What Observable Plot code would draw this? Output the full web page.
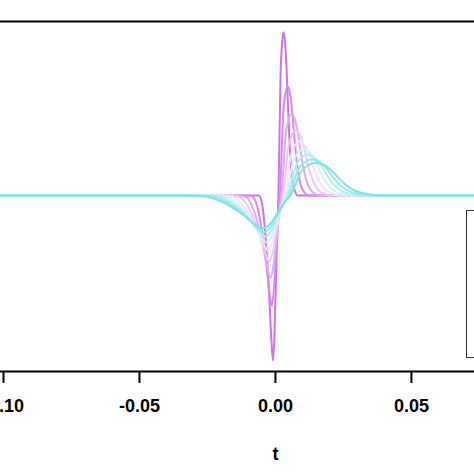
<!DOCTYPE html>
<html><head><meta charset="utf-8">
<script src="https://cdn.jsdelivr.net/npm/d3@7"></script>
<script src="https://cdn.jsdelivr.net/npm/@observablehq/plot@0.6"></script>
<style>
html,body{margin:0;padding:0;background:#fff;overflow:hidden;width:474px;height:474px;}
#wrap{position:relative;width:474px;height:474px;}
#legend{position:absolute;left:466px;top:210px;width:120px;height:148px;border:1.5px solid #333;box-sizing:border-box;background:#fff;}
</style></head><body><div id="wrap"><div id="legend"></div></div>
<script>
// x values in milliseconds (axis labels in seconds)
const tickValues = [-100, -50, 0, 50];
const tickLabels = ["-0.10", "-0.05", "0.00", "0.05"];
const xLabel = "t";
const seriesNames = ["w1", "w2", "w3", "w4", "w5", "w6", "w7", "w8", "w9"];
const colors = ["#CD74EA", "#D68AEE", "#E2A9F2", "#ECC8F5", "#F2E4F6", "#D3F3F3", "#B3EEEE", "#96E9E9", "#7DE4E4"];

const t1 = [-102, -6.25, -5.15, -4.41, -3.68, -2.94, -2.21, -1.47, -0.92, -0.37, 0.18, 0.74, 1.10, 1.47, 1.84, 2.39, 2.94, 3.49, 4.04, 4.60, 5.15, 5.70, 6.25, 6.80, 7.35, 8.1, 75];
const y1 = [0, 0, -0.03, -0.11, -0.24, -0.42, -0.64, -0.88, -1.0, -0.85, -0.52, -0.18, 0, 0.33, 0.70, 0.91, 0.99, 0.94, 0.79, 0.55, 0.33, 0.18, 0.09, 0.045, 0.018, 0, 0];
const t2 = [-102, -9.38, -7.73, -6.62, -5.52, -4.41, -3.32, -2.21, -1.38, -0.56, 0.27, 1.11, 1.65, 2.21, 2.76, 3.59, 4.41, 5.24, 6.06, 6.90, 7.73, 8.55, 9.38, 10.20, 11.03, 12.15, 75];
const y2 = [0, 0, -0.02, -0.073, -0.16, -0.28, -0.427, -0.587, -0.667, -0.567, -0.347, -0.12, 0, 0.22, 0.467, 0.607, 0.66, 0.627, 0.527, 0.367, 0.22, 0.12, 0.06, 0.03, 0.012, 0, 0];
const t3 = [-102, -12.5, -10.3, -8.82, -7.36, -5.88, -4.42, -2.94, -1.84, -0.74, 0.36, 1.48, 2.2, 2.94, 3.68, 4.78, 5.88, 6.98, 8.08, 9.2, 10.3, 11.4, 12.5, 13.6, 14.7, 16.2, 75];
const y3 = [0, 0, -0.015, -0.055, -0.12, -0.21, -0.32, -0.44, -0.5, -0.425, -0.26, -0.09, 0, 0.165, 0.35, 0.455, 0.495, 0.47, 0.395, 0.275, 0.165, 0.09, 0.045, 0.0225, 0.009, 0, 0];
const t4 = [-102, -15.63, -12.88, -11.03, -9.2, -7.35, -5.53, -3.68, -2.3, -0.93, 0.45, 1.85, 2.75, 3.68, 4.6, 5.98, 7.35, 8.73, 10.1, 11.5, 12.88, 14.25, 15.63, 17.0, 18.38, 20.25, 75];
const y4 = [0, 0, -0.012, -0.044, -0.096, -0.168, -0.256, -0.352, -0.4, -0.34, -0.208, -0.072, 0, 0.132, 0.28, 0.364, 0.396, 0.376, 0.316, 0.22, 0.132, 0.072, 0.036, 0.018, 0.0072, 0, 0];
const t5 = [-102, -18.75, -15.45, -13.23, -11.04, -8.82, -6.63, -4.41, -2.76, -1.11, 0.54, 2.22, 3.3, 4.41, 5.52, 7.17, 8.82, 10.47, 12.12, 13.8, 15.45, 17.1, 18.75, 20.4, 22.05, 24.3, 75];
const y5 = [0, 0, -0.01, -0.037, -0.08, -0.14, -0.213, -0.293, -0.333, -0.283, -0.173, -0.06, 0, 0.11, 0.233, 0.303, 0.33, 0.313, 0.263, 0.183, 0.11, 0.06, 0.03, 0.015, 0.006, 0, 0];
const t6 = [-102, -21.88, -18.03, -15.44, -12.88, -10.29, -7.74, -5.15, -3.22, -1.3, 0.63, 2.59, 3.85, 5.15, 6.44, 8.37, 10.29, 12.22, 14.14, 16.1, 18.03, 19.95, 21.88, 23.8, 25.73, 28.35, 75];
const y6 = [0, 0, -0.009, -0.031, -0.069, -0.12, -0.183, -0.251, -0.286, -0.243, -0.149, -0.051, 0, 0.094, 0.2, 0.26, 0.283, 0.269, 0.226, 0.157, 0.094, 0.051, 0.026, 0.013, 0.005, 0, 0];
const t7 = [-102, -25, -20.6, -17.64, -14.72, -11.76, -8.84, -5.88, -3.68, -1.48, 0.72, 2.96, 4.4, 5.88, 7.36, 9.56, 11.76, 13.96, 16.16, 18.4, 20.6, 22.8, 25, 27.2, 29.4, 32.4, 75];
const y7 = [0, 0, -0.008, -0.028, -0.06, -0.105, -0.16, -0.22, -0.25, -0.213, -0.13, -0.045, 0, 0.083, 0.175, 0.228, 0.248, 0.235, 0.198, 0.138, 0.083, 0.045, 0.0225, 0.011, 0.0045, 0, 0];
const t8 = [-102, -28.13, -23.18, -19.85, -16.56, -13.23, -9.95, -6.62, -4.14, -1.67, 0.81, 3.33, 4.95, 6.62, 8.28, 10.76, 13.23, 15.71, 18.18, 20.7, 23.18, 25.65, 28.13, 30.6, 33.08, 36.45, 75];
const y8 = [0, 0, -0.007, -0.024, -0.053, -0.093, -0.142, -0.196, -0.222, -0.189, -0.116, -0.04, 0, 0.073, 0.156, 0.202, 0.22, 0.209, 0.176, 0.122, 0.073, 0.04, 0.02, 0.01, 0.004, 0, 0];
const t9 = [-102, -31.25, -25.75, -22.05, -18.4, -14.7, -11.05, -7.35, -4.6, -1.85, 0.9, 3.7, 5.5, 7.35, 9.2, 11.95, 14.7, 17.45, 20.2, 23, 25.75, 28.5, 31.25, 34, 36.75, 40.5, 75];
const y9 = [0, 0, -0.006, -0.022, -0.048, -0.084, -0.128, -0.176, -0.2, -0.17, -0.104, -0.036, 0, 0.066, 0.14, 0.182, 0.198, 0.188, 0.158, 0.11, 0.066, 0.036, 0.018, 0.009, 0.0036, 0, 0];

const series = [[t1, y1], [t2, y2], [t3, y3], [t4, y4], [t5, y5], [t6, y6], [t7, y7], [t8, y8], [t9, y9]];
const rows = series.flatMap(([ts, ys], k) => ts.map((t, j) => ({t, y: ys[j], s: seriesNames[k]})));

const chart = Plot.plot({
  width: 474, height: 474,
  marginLeft: 0, marginRight: 0, marginTop: 21, marginBottom: 103,
  style: {fontFamily: "'Liberation Sans', Arial, sans-serif", color: "#000", background: "#fff"},
  x: {domain: [-101.1, 73.2]},
  y: {domain: [-1.0667, 1.0545], axis: null},
  color: {type: "ordinal", domain: seriesNames, range: colors},
  marks: [
    Plot.line(rows, {x: "t", y: "y", z: "s", stroke: "s", strokeWidth: 2, curve: "monotone-x"}),
    Plot.frame({anchor: "top", stroke: "#000", strokeWidth: 2}),
    Plot.frame({anchor: "bottom", stroke: "#000", strokeWidth: 2}),
    Plot.axisX(tickValues, {anchor: "bottom", tickSize: 12, tickPadding: 16, strokeWidth: 2, fontSize: 18, fontWeight: "bold",
      tickFormat: d => tickLabels[tickValues.indexOf(d)], label: null}),
    Plot.text([xLabel], {text: d => d, frameAnchor: "bottom", dx: 38, dy: 88, lineAnchor: "bottom", fontSize: 18, fontWeight: "bold", fill: "#000"})
  ]
});
document.getElementById("wrap").prepend(chart);
</script></body></html>
